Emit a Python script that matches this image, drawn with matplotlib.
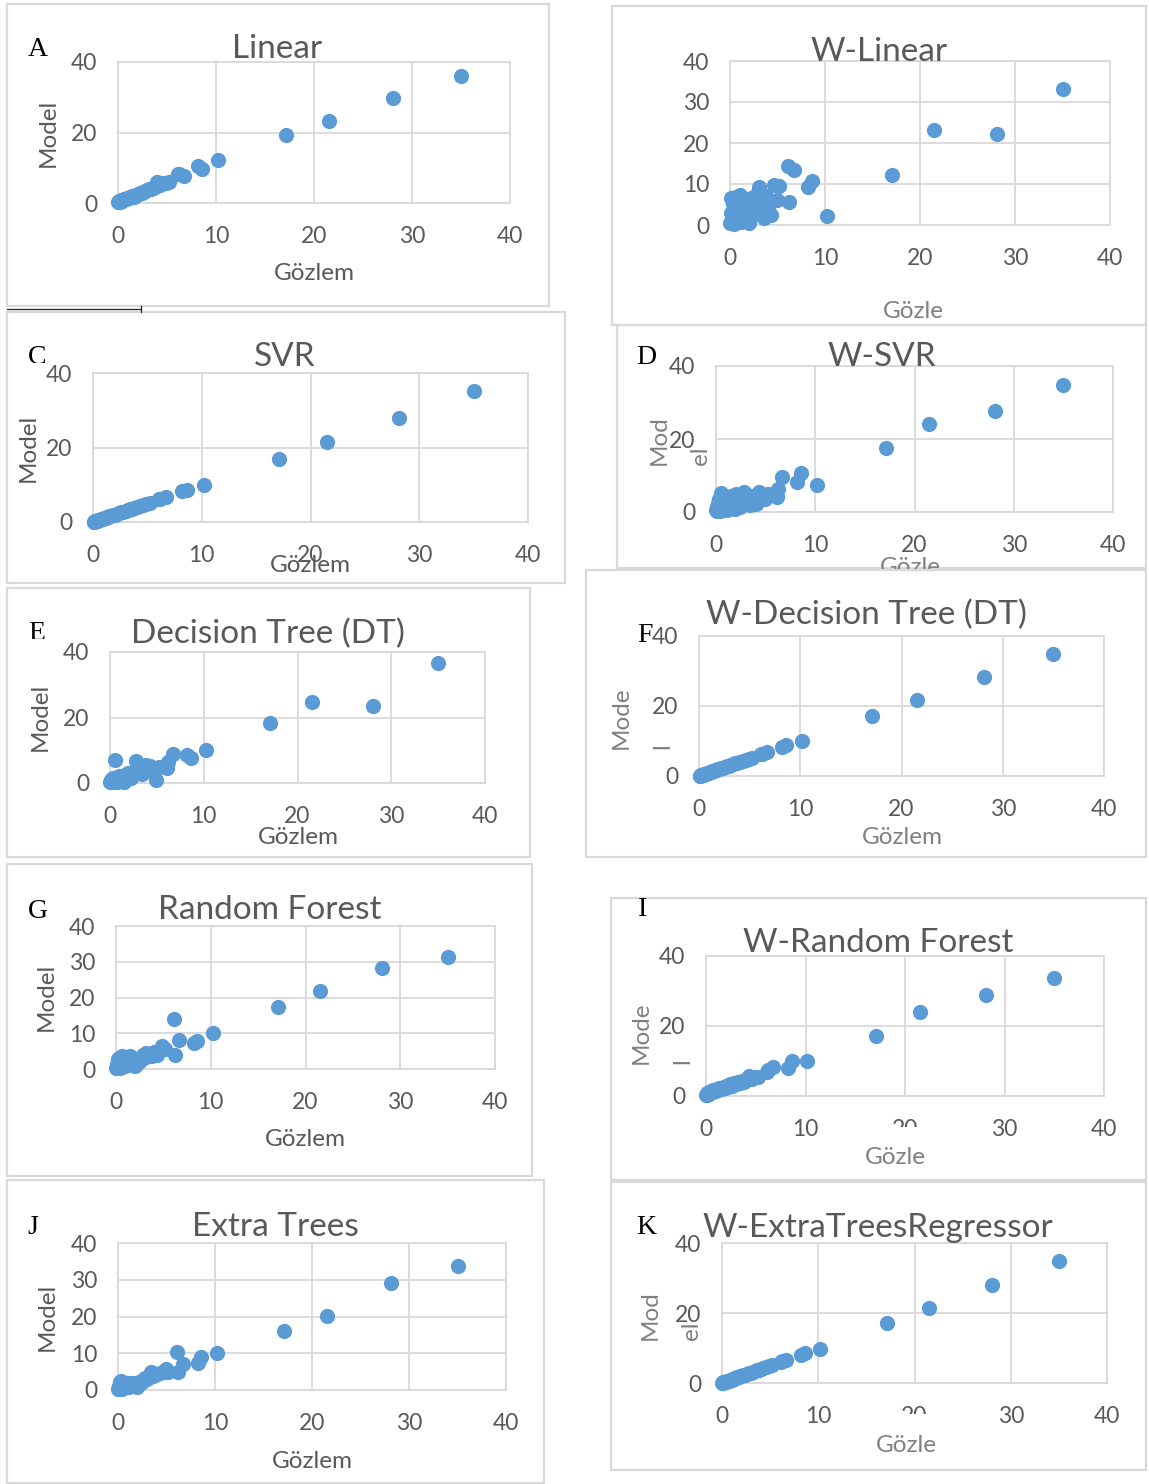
import matplotlib
matplotlib.use('Agg')
import matplotlib.pyplot as plt
from matplotlib.patches import Rectangle
from matplotlib.lines import Line2D
from matplotlib.transforms import Bbox, TransformedBbox

# ---------------- data ----------------
gozlem = [0.05, 0.1, 0.15, 0.2, 0.3, 0.35, 0.4, 0.5, 0.6, 0.7, 0.8, 0.9, 1.0, 1.1, 1.2, 1.3,
          1.4, 1.5, 1.6, 1.8, 1.9, 2.0, 2.2, 2.4, 2.6, 2.8, 3.0, 3.2, 3.4, 3.6, 3.8, 4.0,
          4.3, 4.6, 4.9, 5.2, 6.1, 6.2, 6.7, 8.2, 8.6, 10.2, 17.1, 21.5, 28.1, 35.0]

linear = [0.2, 0.3, 0.5, 0.4, 0.6, 0.8, 0.7, 0.9, 1.0, 1.2, 1.1, 1.4, 1.5, 1.3, 1.7, 1.6,
          1.9, 2.0, 1.8, 2.3, 2.4, 2.6, 2.8, 2.9, 3.2, 3.4, 3.6, 3.9, 4.1, 4.3, 4.6, 5.9,
          5.0, 5.6, 5.8, 5.9, 8.3, 8.1, 7.7, 10.5, 9.6, 12.3, 19.3, 23.2, 29.9, 36.0]

w_linear = [0.5, 3.0, 6.5, 1.5, 5.2, 2.5, 0.3, 4.0, 6.8, 2.0, 1.0, 5.8, 3.5, 7.2, 0.8, 4.5,
            2.8, 6.0, 1.5, 5.0, 3.2, 0.5, 6.5, 2.5, 4.8, 7.5, 9.3, 3.0, 5.5, 1.8, 7.0, 4.2,
            2.5, 9.8, 6.2, 9.5, 14.5, 5.5, 13.3, 9.3, 10.8, 2.1, 12.2, 23.1, 22.2, 33.1]

svr = [0.1, 0.1, 0.2, 0.2, 0.3, 0.4, 0.4, 0.5, 0.6, 0.7, 0.8, 0.9, 1.0, 1.1, 1.2, 1.3,
       1.4, 1.5, 1.6, 1.8, 1.9, 2.0, 2.2, 2.4, 2.6, 2.8, 3.0, 3.2, 3.4, 3.6, 3.8, 4.0,
       4.3, 4.5, 4.8, 5.0, 6.3, 6.3, 6.8, 8.2, 8.6, 9.8, 17.0, 21.4, 28.0, 35.1]

w_svr = [0.5, 1.5, 0.2, 2.5, 1.0, 3.5, 0.3, 5.2, 2.0, 0.8, 3.0, 1.5, 4.0, 0.5, 2.5, 3.8,
         1.2, 4.5, 2.0, 3.2, 0.8, 5.0, 2.8, 1.5, 4.2, 5.4, 2.5, 3.8, 1.8, 4.5, 3.0, 2.2,
         5.5, 4.0, 3.5, 4.8, 4.0, 6.3, 9.6, 8.1, 10.7, 7.5, 17.5, 24.0, 27.8, 34.8]

dt = [0.2, 0.8, 0.3, 1.2, 0.5, 1.5, 0.2, 7.0, 1.0, 0.4, 1.8, 0.9, 2.0, 1.3, 0.6, 2.2,
      1.5, 0.3, 2.5, 1.8, 3.0, 2.2, 1.5, 3.2, 2.8, 6.8, 3.5, 4.8, 2.8, 4.5, 5.5, 4.2,
      5.2, 3.8, 1.0, 4.8, 4.5, 6.5, 9.0, 8.6, 7.6, 10.2, 18.2, 24.6, 23.5, 36.6]

w_dt = [0.1, 0.1, 0.2, 0.2, 0.3, 0.4, 0.4, 0.5, 0.6, 0.7, 0.8, 0.9, 1.0, 1.1, 1.2, 1.3,
        1.4, 1.5, 1.6, 1.8, 1.9, 2.0, 2.2, 2.4, 2.6, 2.8, 3.0, 3.2, 3.4, 3.6, 3.8, 4.0,
        4.3, 4.6, 4.9, 5.2, 6.2, 6.4, 6.8, 8.3, 8.8, 10.1, 17.1, 21.6, 28.3, 35.0]

rf = [0.3, 1.5, 0.5, 2.8, 1.0, 3.2, 0.4, 2.0, 3.5, 1.2, 2.5, 0.8, 3.0, 1.8, 3.4, 1.0,
      2.2, 3.6, 1.5, 2.8, 1.2, 0.8, 2.5, 2.0, 3.0, 4.0, 3.2, 4.5, 3.8, 4.2, 3.5, 4.8,
      4.0, 5.2, 6.5, 5.5, 14.0, 4.0, 8.0, 7.2, 7.8, 10.0, 17.3, 21.7, 28.3, 31.2]

w_rf = [0.4, 0.8, 0.3, 1.0, 0.6, 1.2, 0.9, 1.4, 1.1, 1.6, 1.3, 1.8, 1.5, 2.0, 1.7, 2.2,
        1.9, 2.4, 2.1, 2.6, 2.3, 3.0, 2.7, 3.3, 3.0, 3.8, 3.4, 3.9, 3.7, 4.2, 4.0, 4.6,
        5.8, 5.0, 5.5, 5.3, 6.8, 7.3, 8.2, 8.0, 10.0, 10.0, 17.2, 24.0, 28.8, 33.6]

et = [0.2, 1.0, 0.4, 2.2, 0.8, 2.5, 0.3, 1.5, 2.0, 0.9, 1.6, 1.2, 1.8, 0.7, 2.0, 1.3,
      1.9, 1.0, 1.6, 2.0, 1.3, 0.8, 2.3, 2.0, 2.6, 3.2, 3.0, 3.6, 5.0, 3.8, 4.0, 4.4,
      4.6, 4.9, 5.8, 5.0, 10.3, 5.0, 7.0, 7.3, 8.9, 10.0, 16.0, 20.2, 29.0, 33.8]

w_et = [0.1, 0.1, 0.2, 0.2, 0.3, 0.4, 0.4, 0.5, 0.6, 0.7, 0.8, 0.9, 1.0, 1.1, 1.2, 1.3,
        1.4, 1.5, 1.6, 1.8, 1.9, 2.0, 2.2, 2.4, 2.6, 2.8, 3.0, 3.2, 3.4, 3.6, 3.8, 4.0,
        4.3, 4.6, 4.9, 5.2, 6.0, 6.2, 6.6, 8.1, 8.5, 9.8, 17.1, 21.5, 28.1, 34.8]

titles = ['Linear', 'W-Linear', 'SVR', 'W-SVR', 'Decision Tree (DT)', 'W-Decision Tree (DT)',
          'Random Forest', 'W-Random Forest', 'Extra Trees', 'W-ExtraTreesRegressor']
letters = ['A', '', 'C', 'D', 'E', 'F', 'G', 'I', 'J', 'K']
ylabels = ['Model', '', 'Model', 'Mod\nel', 'Model', 'Mode\nl', 'Model', 'Mode\nl', 'Model', 'Mod\nel']
xlabels = ['Gözlem', 'Gözle', 'Gözlem', 'Gözle', 'Gözlem', 'Gözlem', 'Gözlem', 'Gözle', 'Gözlem', 'Gözle']
xticks = [0, 10, 20, 30, 40]
yticks_coarse = [0, 20, 40]
yticks_fine = [0, 10, 20, 30, 40]
series = [linear, w_linear, svr, w_svr, dt, w_dt, rf, w_rf, et, w_et]

# ---------------- layout (pixel coordinates of the reference) ----------------
W, H = 1149, 1484
layout = [
    dict(box=(7, 4, 549, 306), ax=(118, 510, 203, 62), fine=False, t=(277, 47), l=(38, 50), lc=None,
         yl=(48, 133), light=False, xl=(314, 273), xc=None, mask=False),
    dict(box=(612, 6, 1146, 325), ax=(730, 1110, 225, 61), fine=True, t=(879, 50), l=None, lc=None,
         yl=None, light=True, xl=(913, 311), xc=None, mask=False),
    dict(box=(7, 312, 565, 583), ax=(93, 528, 522, 373), fine=False, t=(285, 355), l=(37, 358), lc=363,
         yl=(28, 448), light=False, xl=(310, 565), xc=None, mask=False),
    dict(box=(617, 325, 1146, 568), ax=(716, 1113, 512, 366), fine=False, t=(882, 355), l=(646, 358), lc=364,
         yl=(680, 440), light=True, xl=(910, 567), xc=569, mask=False),
    dict(box=(7, 588, 530, 857), ax=(110, 485, 783, 652), fine=False, t=(268, 632), l=(37, 634), lc=639,
         yl=(40, 717), light=False, xl=(298, 838), xc=None, mask=False),
    dict(box=(586, 570, 1146, 857), ax=(699, 1104, 776, 636), fine=False, t=(866, 613), l=(645, 635), lc=None,
         yl=(642, 718), light=True, xl=(902, 837), xc=None, mask=False),
    dict(box=(7, 864, 532, 1176), ax=(116, 495, 1069, 926), fine=True, t=(270, 908), l=(38, 911), lc=919,
         yl=(46, 997), light=False, xl=(305, 1140), xc=None, mask=False),
    dict(box=(611, 898, 1146, 1180), ax=(706, 1104, 1096, 956), fine=False, t=(878, 941), l=(643, 910), lc=None,
         yl=(662, 1033), light=True, xl=(895, 1158), xc=None, mask=True),
    dict(box=(7, 1180, 544, 1483), ax=(118, 506, 1390, 1243), fine=True, t=(275, 1225), l=(33, 1228), lc=1234,
         yl=(47, 1317), light=False, xl=(312, 1462), xc=None, mask=False),
    dict(box=(611, 1182, 1146, 1470), ax=(722, 1107, 1383, 1243), fine=False, t=(878, 1226), l=(646, 1227), lc=None,
         yl=(671, 1315), light=True, xl=(906, 1446), xc=None, mask=True),
]

BLUE = '#5B9BD5'
DARK = '#595959'
LIGHT = '#808080'
GRID = '#D9D9D9'
plt.rcParams['font.family'] = ['Lato', 'DejaVu Sans']

fig = plt.figure(figsize=(W / 100, H / 100), dpi=100)
fig.patch.set_facecolor('white')


def fx(px):
    return px / W


def fy(py):
    return 1 - py / H


def clip_below(artist, py):
    bb = TransformedBbox(Bbox.from_extents(0, fy(py), 1, 1), fig.transFigure)
    artist.set_clip_box(bb)
    artist.set_clip_on(True)


TICK_FS = 16.5
LABEL_FS = 17.5
TITLE_FS = 24

for i, L in enumerate(layout):
    bx0, by0, bx1, by1 = L['box']
    fig.add_artist(Rectangle((fx(bx0), fy(by1)), fx(bx1) - fx(bx0), fy(by0) - fy(by1),
                             transform=fig.transFigure, fill=False, edgecolor=GRID, lw=1.6, zorder=0))
    ax0, ax1, ay0, ay1 = L['ax']
    ax = fig.add_axes([fx(ax0), fy(ay0), fx(ax1) - fx(ax0), fy(ay1) - fy(ay0)])
    ax.set_xlim(0, 40)
    ax.set_ylim(0, 40)
    ax.set_xticks(xticks)
    ax.set_yticks(yticks_fine if L['fine'] else yticks_coarse)
    ax.grid(True, color=GRID, lw=1.3)
    ax.set_axisbelow(True)
    for s in ax.spines.values():
        s.set_color(GRID)
        s.set_linewidth(1.3)
    ax.tick_params(axis='both', length=0, labelsize=TICK_FS, labelcolor=DARK)
    ax.tick_params(axis='y', pad=15)
    ax.tick_params(axis='x', pad=16.3)
    ax.set_facecolor('none')
    ax.scatter(gozlem, series[i], s=120, c=BLUE, linewidths=0, clip_on=False, zorder=3)

    fig.text(fx(L['t'][0]), fy(L['t'][1] + 2), titles[i], ha='center', va='center',
             fontsize=TITLE_FS, color=DARK)
    if L['l'] is not None:
        t = fig.text(fx(L['l'][0]), fy(L['l'][1]), letters[i], ha='center', va='center',
                     fontsize=20, color='black', family=['Liberation Serif', 'DejaVu Serif'])
        if L['lc'] is not None:
            clip_below(t, L['lc'])
    lab_col = LIGHT if L['light'] else DARK
    if L['yl'] is not None:
        fig.text(fx(L['yl'][0]), fy(L['yl'][1]), ylabels[i], ha='center', va='center',
                 rotation=90, multialignment='left', linespacing=2.2,
                 fontsize=LABEL_FS, color=lab_col)
    t = fig.text(fx(L['xl'][0]), fy(L['xl'][1]), xlabels[i], ha='center', va='center',
                 fontsize=LABEL_FS, color=lab_col)
    if L['xc'] is not None:
        clip_below(t, L['xc'])
    if L['mask']:
        mx = ax0 + (ax1 - ax0) * 0.5
        my = ay0 + 31
        fig.add_artist(Rectangle((fx(mx - 16), fy(my + 16)), 32 / W, 16 / H, transform=fig.transFigure,
                                 facecolor='white', edgecolor='none', zorder=10))

# small dark mark under panel A
fig.add_artist(Line2D([fx(7), fx(141)], [fy(309), fy(309)], transform=fig.transFigure,
                      color='#222222', lw=0.9, zorder=5))
fig.add_artist(Line2D([fx(141), fx(141)], [fy(306), fy(312)], transform=fig.transFigure,
                      color='#222222', lw=0.9, zorder=5))

fig.savefig('out.png', dpi=100, facecolor='white')
